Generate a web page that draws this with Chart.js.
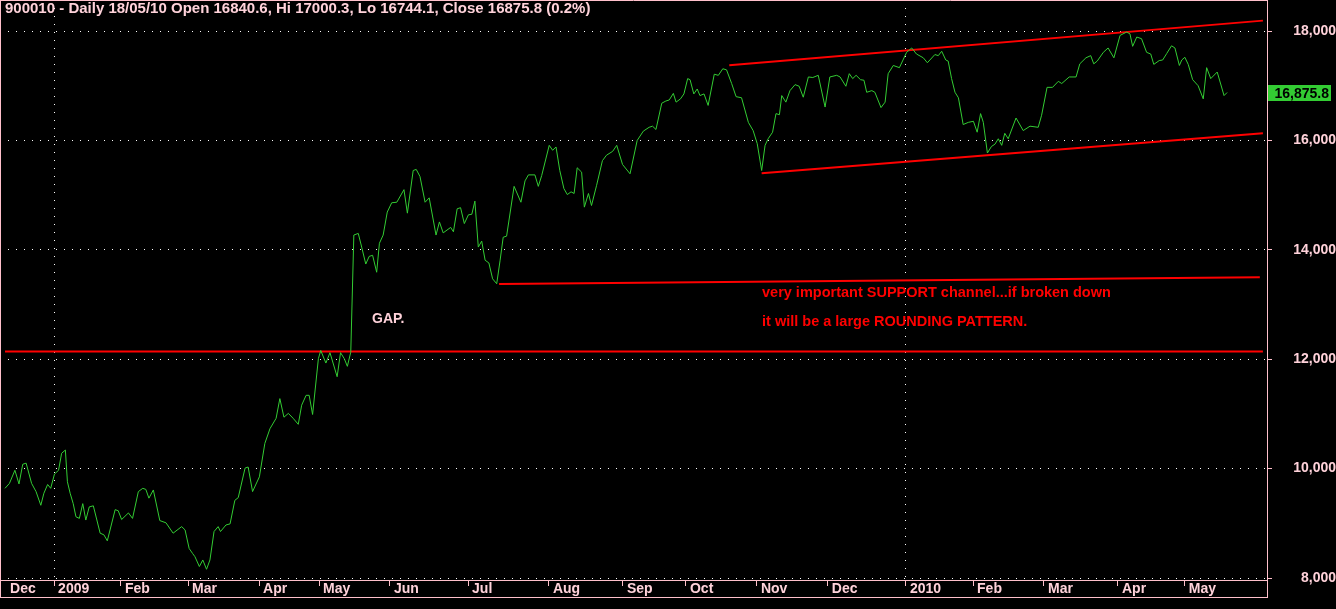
<!DOCTYPE html>
<html>
<head>
<meta charset="utf-8">
<title>900010 - Daily</title>
<script src="https://cdn.jsdelivr.net/npm/chart.js@4.4.0/dist/chart.umd.min.js"></script>
<style>
  html, body { margin: 0; padding: 0; background: #000; }
  #wrap { width: 1336px; height: 609px; }
</style>
</head>
<body>
<div id="wrap"><canvas id="chart" width="1336" height="609"></canvas></div>
<script>
// session index (trading days from the first bar) and daily close
const sessionIdx = [
  0.3, 1.6, 3.2, 4.4, 5.5, 6.5, 8.1, 9.4, 10.8, 11.7, 12.8, 13.7, 14.8, 16.0, 16.9, 18.0, 18.6, 19.4, 20.3, 21.1,
  22.1, 23.1, 24.0, 25.0, 26.2, 28.2, 29.3, 30.3, 32.6, 33.5, 34.5, 36.5, 37.7, 39.4, 40.7, 41.6, 42.5, 43.8, 45.7, 47.5,
  49.6, 52.1, 53.1, 54.3, 55.3, 56.0, 57.3, 58.3, 59.4, 60.4, 61.6, 62.8, 63.5, 65.1, 66.3, 67.7, 68.7, 70.7, 71.6, 72.9,
  74.9, 76.5, 78.0, 79.8, 80.9, 82.1, 83.4, 84.8, 86.3, 87.3, 88.6, 89.5, 90.5, 92.2, 92.9, 94.4, 95.6, 97.7, 98.7, 99.8,
  100.7, 101.7, 102.6, 103.9, 104.9, 106.1, 107.1, 108.1, 109.3, 110.1, 111.2, 112.4, 113.7, 115.2, 117.3, 118.3, 120.0, 120.9, 122.0, 123.5,
  124.7, 126.7, 127.7, 128.8, 131.0, 131.8, 132.9, 133.9, 135.0, 136.2, 137.2, 138.1, 139.1, 140.1, 141.1, 142.2, 143.3, 144.5, 145.5, 146.4,
  147.4, 149.6, 151.6, 152.8, 153.8, 155.7, 156.7, 157.7, 159.9, 160.9, 161.9, 163.0, 164.2, 165.2, 166.3, 167.2, 168.1, 169.4, 170.2, 171.4,
  172.3, 173.8, 175.5, 176.7, 178.5, 179.7, 181.4, 183.6, 185.7, 187.5, 189.2, 190.2, 191.2, 192.9, 194.1, 195.1, 196.3, 197.1, 198.4, 199.4,
  200.5, 201.2, 202.3, 203.3, 204.1, 205.3, 206.5, 208.3, 209.5, 210.8, 211.9, 213.4, 214.7, 216.3, 218.3, 219.7, 220.9, 222.2, 223.2, 224.1,
  225.4, 226.4, 227.4, 228.1, 229.3, 230.5, 232.0, 233.2, 234.4, 235.9, 237.2, 238.8, 240.8, 242.2, 244.2, 245.2, 246.9, 247.9, 248.9, 249.9,
  251.2, 252.2, 253.0, 254.5, 255.4, 257.2, 258.4, 259.3, 260.8, 262.6, 264.7, 266.2, 267.6, 269.6, 270.8, 273.0, 274.0, 275.0, 276.2, 276.9,
  277.9, 278.9, 279.9, 281.3, 282.8, 284.3, 285.4, 286.4, 287.2, 288.4, 289.6, 290.6, 291.6, 292.6, 293.5, 294.5, 296.8, 298.9, 300.9, 303.3,
  304.3, 305.9, 307.5, 309.2, 310.2, 312.4, 314.4, 315.5, 317.3, 318.7, 319.6, 320.6, 322.4, 323.8, 325.5, 327.3, 329.2, 330.2, 331.0, 332.2,
  333.6, 335.1, 336.3, 337.2, 338.8, 339.8, 341.0, 342.4, 343.4, 344.7, 345.4, 346.3, 347.3, 348.6, 350.2, 351.7, 352.7, 353.9, 355.8, 357.8,
  358.7
];
const closeValues = [
  9640, 9730, 9970, 9720, 10080, 10100, 9730, 9580, 9330, 9550, 9710, 9640, 9900, 9970, 10280, 10340, 9760, 9550, 9360, 9120,
  9090, 9360, 9060, 9300, 9320, 8820, 8790, 8680, 9250, 9230, 9070, 9190, 9090, 9580, 9640, 9620, 9460, 9610, 9050, 9010,
  8820, 8940, 8880, 8540, 8450, 8390, 8210, 8330, 8160, 8330, 8850, 8940, 8850, 8970, 8990, 9420, 9470, 10010, 10030, 9580,
  9850, 10460, 10730, 10920, 11280, 10940, 11010, 10920, 10810, 11160, 11340, 11340, 10990, 12010, 12160, 11930, 12120, 11680, 12120, 12010,
  11870, 12130, 14270, 14300, 14050, 13740, 13880, 13900, 13590, 14120, 14270, 14690, 14860, 14870, 15100, 14670, 15450, 15470, 15340, 14870,
  14950, 14270, 14510, 14310, 14410, 14330, 14750, 14770, 14480, 14640, 14650, 14890, 14050, 14160, 13810, 13760, 13470, 13380, 13810, 14230,
  14250, 15160, 14870, 15260, 15370, 15370, 15160, 15360, 15910, 15820, 15880, 15450, 15120, 15010, 15060, 15030, 15500, 15420, 14780, 15030,
  14810, 15180, 15630, 15730, 15800, 15910, 15560, 15390, 16000, 16170, 16240, 16260, 16200, 16680, 16720, 16740, 16860, 16700, 16760, 16850,
  17130, 17110, 16850, 16940, 16820, 16850, 16640, 17210, 17190, 17310, 17290, 17040, 16800, 16780, 16330, 16180, 15940, 15450, 15910, 16030,
  16150, 16490, 16470, 16820, 16700, 16910, 17020, 16990, 16790, 17160, 17150, 17190, 16610, 17160, 17190, 17160, 16990, 17220, 17130, 17190,
  17110, 17100, 16880, 16910, 16880, 16600, 16700, 17220, 17370, 17330, 17610, 17690, 17580, 17510, 17420, 17570, 17550, 17630, 17470, 17450,
  17130, 16880, 16780, 16290, 16330, 16350, 16150, 16490, 16330, 15770, 15890, 15930, 16030, 15910, 16130, 16030, 16410, 16180, 16260, 16240,
  16460, 16970, 16970, 17080, 17040, 17160, 17160, 17400, 17510, 17550, 17400, 17450, 17610, 17690, 17510, 17920, 17980, 17950, 17720, 17890,
  17860, 17610, 17580, 17390, 17460, 17470, 17590, 17730, 17690, 17370, 17470, 17520, 17390, 17110, 17000, 16760, 17330, 17130, 17250, 16820,
  16875.8
];

// month boundaries on the session axis
const monthBars = [0.6, 14.7, 34.3, 54.0, 74.8, 92.4, 113.2, 136.1, 159.8, 181.5, 200.0, 220.8, 241.6, 264.5, 284.2, 305.0, 326.7, 346.3];
const monthLabels = ['Dec', '2009', 'Feb', 'Mar', 'Apr', 'May', 'Jun', 'Jul', 'Aug', 'Sep', 'Oct', 'Nov', 'Dec', '2010', 'Feb', 'Mar', 'Apr', 'May'];
const yTicks = [8000, 10000, 12000, 14000, 16000, 18000];

// hand drawn trend lines (start / end)
const breakoutBars = [0.3, 369.2];
const breakoutValues = [12140, 12140];
const supportBars = [145.2, 368.3];
const supportValues = [13375, 13500];
const channelTopBars = [212.7, 369.2];
const channelTopValues = [17375, 18190];
const channelLowBars = [222.2, 369.2];
const channelLowValues = [15400, 16130];

const titleText = '900010 - Daily 18/05/10 Open 16840.6, Hi 17000.3, Lo 16744.1, Close 16875.8 (0.2%)';

const PINK = '#ffc0cb';
const LABEL = '#ffd2da';
const GREEN = '#33cc33';
const RED = '#ff0000';
const FONT = '"Liberation Sans", Arial, sans-serif';

const toPoints = (xs, ys) => xs.map((x, i) => ({ x: x, y: ys[i] }));

const trendSet = (xs, ys) => ({
  data: toPoints(xs, ys),
  borderColor: RED,
  borderWidth: 2,
  pointRadius: 0,
  tension: 0
});

const overlay = {
  id: 'overlay',
  afterDraw(chart) {
    const c = chart.ctx;
    const a = chart.chartArea;
    const ys = chart.scales.y;
    c.save();

    // frame round plot and date strip
    c.strokeStyle = PINK;
    c.lineWidth = 1;
    c.beginPath();
    c.moveTo(0, 0.5); c.lineTo(a.right, 0.5);
    c.moveTo(0.5, 0); c.lineTo(0.5, 598);
    c.moveTo(0, 597.5); c.lineTo(a.right + 1, 597.5);
    c.moveTo(a.right + 0.5, 0); c.lineTo(a.right + 0.5, 598);
    c.stroke();

    // title
    c.font = 'bold 15px ' + FONT;
    c.fillStyle = LABEL;
    c.textBaseline = 'middle';
    c.textAlign = 'left';
    c.fillText(titleText, 5, 9);

    // notes
    c.font = 'bold 14px ' + FONT;
    c.fillText('GAP.', 372, 319);
    c.font = 'bold 14.5px ' + FONT;
    c.fillStyle = RED;
    c.fillText('very important SUPPORT channel...if broken down', 762, 293);
    c.fillText('it will be a large ROUNDING PATTERN.', 762, 322);

    // last value box
    const last = closeValues[closeValues.length - 1];
    const py = Math.round(ys.getPixelForValue(last));
    c.fillStyle = GREEN;
    c.fillRect(a.right + 1, py - 8, 63, 16);
    c.fillStyle = '#000';
    c.textAlign = 'right';
    c.font = 'bold 14px ' + FONT;
    c.fillText(last.toLocaleString('en-US', { minimumFractionDigits: 1 }), 1329, py + 1);
    c.restore();
  }
};

const ctx = document.getElementById('chart').getContext('2d');

const chart = new Chart(ctx, {
  type: 'line',
  data: {
    datasets: [
      {
        data: toPoints(sessionIdx, closeValues),
        borderColor: GREEN,
        borderWidth: 1,
        pointRadius: 0,
        tension: 0
      },
      trendSet(breakoutBars, breakoutValues),
      trendSet(supportBars, supportValues),
      trendSet(channelTopBars, channelTopValues),
      trendSet(channelLowBars, channelLowValues)
    ]
  },
  options: {
    responsive: false,
    animation: false,
    layout: { padding: 0 },
    plugins: {
      legend: { display: false },
      tooltip: { enabled: false }
    },
    scales: {
      x: {
        type: 'linear',
        position: 'bottom',
        min: -1.17,
        max: 370.4,
        afterBuildTicks: (s) => { s.ticks = monthBars.map(v => ({ value: v })); },
        afterFit: (s) => { s.height = 29; s.paddingLeft = 0; s.paddingRight = 0; },
        grid: {
          color: (c) => (monthLabels[c.index] === '2009' || monthLabels[c.index] === '2010') ? '#ffffff' : 'rgba(0,0,0,0)',
          tickColor: (c) => c.index === 0 ? 'rgba(0,0,0,0)' : PINK,
          tickLength: 6,
          tickBorderDash: []
        },
        border: { color: PINK, width: 1, dash: [1, 7] },
        ticks: {
          autoSkip: false,
          maxRotation: 0,
          align: 'start',
          labelOffset: 4,
          padding: -5,
          color: LABEL,
          font: { family: FONT, size: 14, weight: 'bold' },
          callback: (v, i) => monthLabels[i]
        }
      },
      y: {
        type: 'linear',
        position: 'right',
        min: 7964,
        max: 18567,
        afterBuildTicks: (s) => { s.ticks = yTicks.map(v => ({ value: v })); },
        afterFit: (s) => { s.width = 69; s.paddingTop = 0; s.paddingBottom = 0; },
        grid: {
          color: '#ffffff',
          tickColor: PINK,
          tickLength: 5,
          tickBorderDash: []
        },
        border: { color: PINK, width: 1, dash: [1, 7] },
        ticks: {
          crossAlign: 'far',
          padding: 17,
          color: LABEL,
          font: { family: FONT, size: 14, weight: 'bold' },
          callback: (v) => v.toLocaleString('en-US')
        }
      }
    }
  },
  plugins: [overlay]
});
</script>
</body>
</html>
